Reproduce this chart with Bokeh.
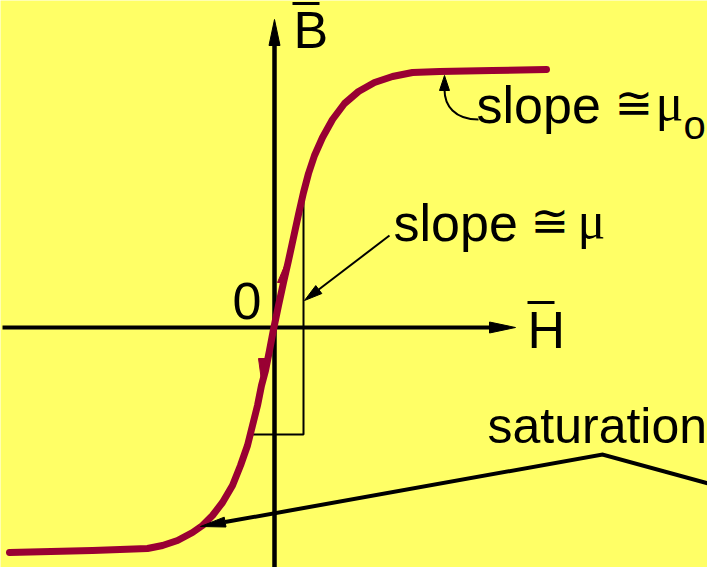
import math
from bokeh.plotting import figure
from bokeh.models import Range1d
from bokeh.core.properties import value
from bokeh.embed import file_html
from bokeh.resources import INLINE

BG = "#FFFF66"
CURVE = "#990033"

# B-H magnetisation curve (H to the right, B upward; origin at the axes crossing)
curve_h = [-265, -182, -127, -112, -97, -82, -72, -62, -52, -42, -34, -27, -22, -17, -13, -9, -5, -1,
           4, 9, 14, 19, 24, 29, 34, 40, 48, 58, 70, 84, 100, 118, 138, 165, 218, 272]
curve_b = [-225, -223, -221, -218, -213, -205, -198, -188, -175, -158, -138, -118, -98, -78, -58, -43, -23, -2,
           22, 45, 67, 90, 113, 135, 154, 172, 190, 208, 224, 236, 245, 251, 255, 256, 257, 258]

# direction barbs on the curve (half arrow heads)
barb_up_h = [3, 10, 12]
barb_up_b = [45, 45, 66]
barb_down_h = [-16, -9, -13]
barb_down_b = [-31, -31, -53]

# axes
h_axis_h = [-272, 241]
b_axis_b = [-248, 308]

# slope triangle
tri_h = [-23, 29, 29]
tri_b = [-107, -107, 133]

# annotation arrows
mu_arrow_tail = (115, 92)
mu_arrow_tip = (30, 27)
sat_right = (441, -158)
sat_joint = (328, -127)
sat_tip = (-74, -199)
mu0_start = (204, 208)
mu0_c1 = (180, 208)
mu0_c2 = (170, 222)
mu0_end = (170, 238)
mu0_tip = (170, 252)

# labels
slope_labels = ["slope", "slope"]
slope_h = [202, 119]
slope_b = [223, 105]
cong_h = [340, 256]
cong_b = [225, 107]
mu_h = [381, 303]
mu_b = [225, 107]
sub_label = "o"
sat_label = "saturation"


def head(tip, tail, length, half):
    dx, dy = tail[0] - tip[0], tail[1] - tip[1]
    d = math.hypot(dx, dy)
    ux, uy = dx / d, dy / d
    bx, by = tip[0] + ux * length, tip[1] + uy * length
    px, py = -uy, ux
    return ([tip[0], bx + px * half, bx - px * half],
            [tip[1], by + py * half, by - py * half], (bx, by))


p = figure(width=707, height=567, output_backend="svg", toolbar_location=None,
           x_range=Range1d(-274, 433), y_range=Range1d(-240, 327),
           min_border=0, background_fill_color=BG, border_fill_color=BG)
p.axis.visible = False
p.grid.visible = False
p.outline_line_color = None

# axes
hx, hy, hb = head((h_axis_h[1], 0), (h_axis_h[0], 0), 26, 5.5)
p.line([h_axis_h[0], hb[0]], [0, 0], line_color="black", line_width=4)
p.patch(hx, hy, color="black")
bx_, by_, bb = head((0, b_axis_b[1]), (0, b_axis_b[0]), 26, 5.5)
p.line([0, 0], [b_axis_b[0], bb[1]], line_color="black", line_width=4.5)
p.patch(bx_, by_, color="black")

# slope triangle
p.line(tri_h, tri_b, line_color="black", line_width=2)

# curve
p.line(curve_h, curve_b, line_color=CURVE, line_width=7, line_join="round", line_cap="round")
p.patch(barb_up_h, barb_up_b, color=CURVE)
p.patch(barb_down_h, barb_down_b, color=CURVE)

# mu arrow
ax, ay, ab = head(mu_arrow_tip, mu_arrow_tail, 18, 5)
p.line([mu_arrow_tail[0], ab[0]], [mu_arrow_tail[1], ab[1]], line_color="black", line_width=2)
p.patch(ax, ay, color="black")

# saturation arrows
sx, sy, sb = head(sat_tip, sat_joint, 25, 5)
p.line([sat_right[0], sat_joint[0], sb[0]], [sat_right[1], sat_joint[1], sb[1]],
       line_color="black", line_width=4, line_join="miter")
p.patch(sx, sy, color="black")

# mu0 curved arrow
p.bezier(x0=[mu0_start[0]], y0=[mu0_start[1]], x1=[mu0_end[0]], y1=[mu0_end[1]],
         cx0=[mu0_c1[0]], cy0=[mu0_c1[1]], cx1=[mu0_c2[0]], cy1=[mu0_c2[1]],
         line_color="black", line_width=2)
mx, my, _ = head(mu0_tip, mu0_end, 15, 5)
p.patch(mx, my, color="black")

sans = value("Liberation Sans")
p.text(slope_h, slope_b, text=slope_labels, text_font=sans, text_font_size="52px",
       text_baseline="alphabetic", text_align="left", text_color="black")
p.text(cong_h, cong_b, text=["≅", "≅"], text_font=value("DejaVu Sans"), text_font_size="46px",
       text_baseline="alphabetic", text_align="left", text_color="black")
p.text(mu_h, mu_b, text=["μ", "μ"], text_font=value("Liberation Serif"), text_font_size="52px",
       text_baseline="alphabetic", text_align="left", text_color="black")
p.text([409], [203], text=[sub_label], text_font=sans, text_font_size="40px",
       text_baseline="alphabetic", text_align="left", text_color="black")
p.text([213], [-98], text=[sat_label], text_font=sans, text_font_size="50px",
       text_baseline="alphabetic", text_align="left", text_color="black")
p.text([-42], [27], text=["0"], text_font=sans, text_font_size="52px",
       text_baseline="alphabetic", text_align="left", text_color="black")
p.text([19, 253], [298, -2], text=["B", "H"], text_font=sans, text_font_size="52px",
       text_baseline="alphabetic", text_align="left", text_color="black")
# over-bars of B and H
p.segment(x0=[18, 253], y0=[324, 25], x1=[45, 280], y1=[324, 25], line_color="black", line_width=3)

open("out.html", "w").write(file_html(p, INLINE))
